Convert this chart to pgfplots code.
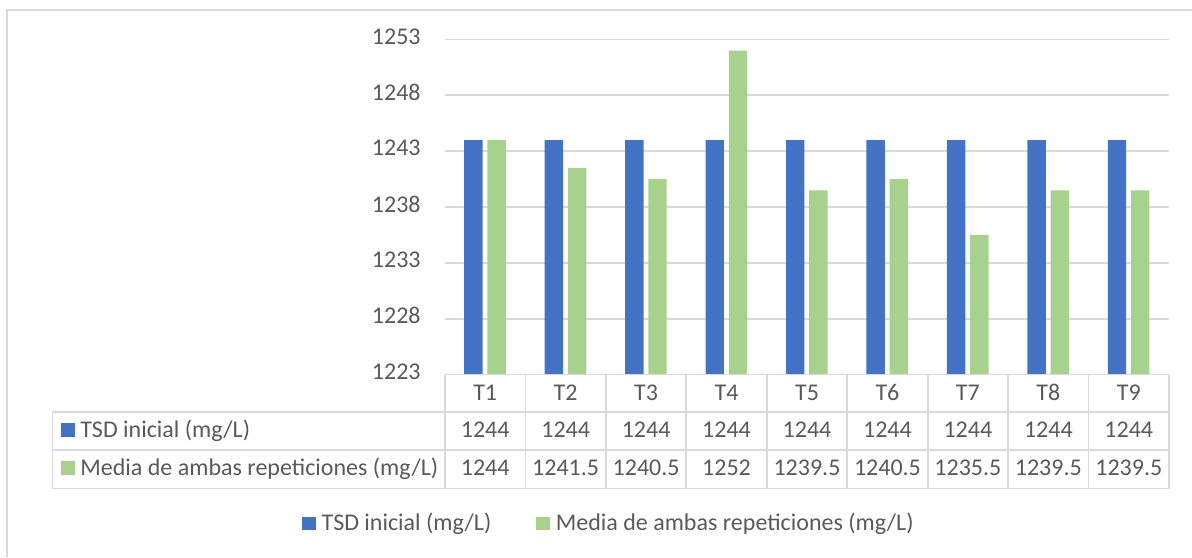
\documentclass[border=0pt]{standalone}
\usepackage{pgfplots}
\pgfplotsset{compat=1.18}
\usepackage{fontspec}
\setmainfont{Carlito}
\definecolor{barblue}{HTML}{4472C4}
\definecolor{bargreen}{HTML}{A9D18E}
\definecolor{gridgray}{HTML}{D9D9D9}
\definecolor{txt}{HTML}{595959}
\newcommand\f{\fontsize{12}{14.4}\selectfont}
\begin{document}
\begin{tikzpicture}
\useasboundingbox (0,0) rectangle (596pt,278.5pt);
% outer chart frame (top and left visible)
\draw[gridgray, line width=0.9pt] (3.5pt,0pt) -- (3.5pt,273.5pt) -- (600pt,273.5pt);
\begin{axis}[
  at={(222.5pt,91.25pt)}, anchor=south west,
  scale only axis, width=362pt, height=167.5pt,
  xmin=-0.5, xmax=8.5, ymin=1223, ymax=1253,
  ytick={1223,1228,1233,1238,1243,1248,1253},
  xtick=\empty,
  axis line style={draw=none},
  ymajorgrids, grid style={line width=0.9pt, color=gridgray},
  major tick length=0pt,
  /pgf/number format/1000 sep={},
  /pgf/number format/assume math mode=true,
  yticklabel style={font=\f, text=txt, anchor=east, inner sep=0pt, xshift=-12pt, yshift=1.5pt},
  ybar,
  legend columns=2,
  legend style={at={(axis description cs:-0.1971,-0.4454)}, anchor=west,
    draw=none, fill=none, inner sep=0pt, outer sep=0pt, font=\f, text=txt,
    nodes={inner sep=0pt, outer sep=0pt},
    /tikz/every odd column/.append style={column sep=3pt},
    /tikz/every even column/.append style={column sep=22.5pt}},
  legend cell align=left,
]
\addplot[fill=barblue, draw=none, bar width=9.2pt, bar shift=-5.9pt,
  legend image code/.code={\fill[barblue] (0pt,-3.35pt) rectangle (6.7pt,3.35pt);}]
  coordinates {(0,1244) (1,1244) (2,1244) (3,1244) (4,1244) (5,1244) (6,1244) (7,1244) (8,1244)};
\addplot[fill=bargreen, draw=none, bar width=9.2pt, bar shift=5.7pt,
  legend image code/.code={\fill[bargreen] (0pt,-3.35pt) rectangle (6.7pt,3.35pt);}]
  coordinates {(0,1244) (1,1241.5) (2,1240.5) (3,1252) (4,1239.5) (5,1240.5) (6,1235.5) (7,1239.5) (8,1239.5)};
\legend{TSD inicial (mg/L), Media de ambas repeticiones (mg/L)}
\end{axis}
% data table below the plot
\begin{scope}[x=0.5pt, y=-0.5pt, yshift=278.5pt]
  \draw[gridgray, line width=0.9pt] (445,374.5) -- (1169,374.5);
  \foreach \yy in {412,450,488.5} \draw[gridgray, line width=0.9pt] (52.5,\yy) -- (1169,\yy);
  \draw[gridgray, line width=0.9pt] (52.5,412) -- (52.5,488.5);
  \foreach \k in {0,...,9} \draw[gridgray, line width=0.9pt] ({445+80.444*\k},374.5) -- ({445+80.444*\k},488.5);
  \foreach \lab [count=\i from 0] in {T1,T2,T3,T4,T5,T6,T7,T8,T9}
    \node[anchor=base, inner sep=0pt, font=\f, text=txt] at ({445+80.444*(\i+0.5)},400) {\lab};
  \foreach \v [count=\i from 0] in {1244,1244,1244,1244,1244,1244,1244,1244,1244}
    \node[anchor=base, inner sep=0pt, font=\f, text=txt] at ({445+80.444*(\i+0.5)},437.5) {\v};
  \foreach \v [count=\i from 0] in {1244,1241.5,1240.5,1252,1239.5,1240.5,1235.5,1239.5,1239.5}
    \node[anchor=base, inner sep=0pt, font=\f, text=txt] at ({445+80.444*(\i+0.5)},475.5) {\v};
  \fill[barblue] (61,423.3) rectangle (74.7,436.7);
  \fill[bargreen] (61,461.3) rectangle (74.7,474.7);
  \node[anchor=base west, inner sep=0pt, font=\f, text=txt] at (80,437.5) {TSD inicial (mg/L)};
  \node[anchor=base west, inner sep=0pt, font=\f, text=txt] at (80,475.5) {Media de ambas repeticiones (mg/L)};
\end{scope}
\end{tikzpicture}
\end{document}
